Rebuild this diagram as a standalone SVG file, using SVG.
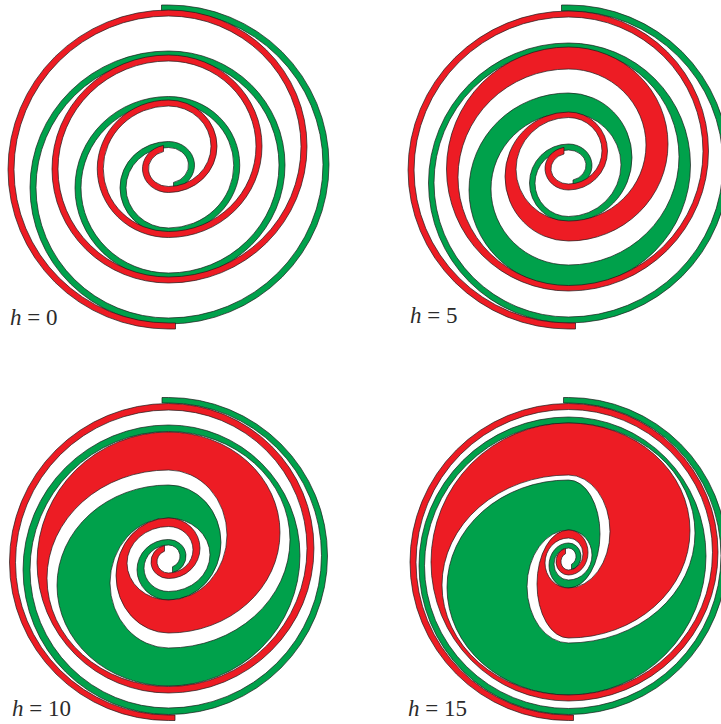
<svg xmlns="http://www.w3.org/2000/svg" xmlns:xlink="http://www.w3.org/1999/xlink" width="721" height="724" viewBox="0 0 721 724">
<style>
.sp{stroke:#1a1a1a;stroke-width:0.7;stroke-linejoin:round}
.gr{fill:#00a14b}
.rd{fill:#ed1c24}
.lab{font-family:"Liberation Serif","Times New Roman",serif;font-size:23px;fill:#2b2b2b}
</style>
<defs>
<path id="p1" d="M161.5 5 L168.5 5 A160.5 159.5 0 0 1 168.5 324 A138.5 136.5 0 0 1 168.5 51 A116.5 114 0 0 1 168.5 279 A93.5 91.25 0 0 1 168.5 96.5 A71.25 68.75 0 0 1 168.5 234 A48.5 46.25 0 0 1 168.5 141.5 A26 23.75 0 0 1 173.5 188.56 L173.5 182.44 A20 17.75 0 0 0 168.5 147.5 A42.5 40.25 0 0 0 168.5 228 A65.25 62.75 0 0 0 168.5 102.5 A87.5 85.25 0 0 0 168.5 273 A110.5 108 0 0 0 168.5 57 A132.5 130.5 0 0 0 168.5 318 A154.5 153.5 0 0 0 168.5 11 L161.5 11 Z"/>
<path id="p2" d="M161.5 5 L168.5 5 A160.5 159 0 0 1 168.5 323 A140 140 0 0 1 168.5 43 A122 122 0 0 1 168.5 287 A99.5 97 0 0 1 168.5 93 A63.5 64.5 0 0 1 168.5 222 A39 39 0 0 1 168.5 144 A23.5 21.5 0 0 1 173 186.6 L173 180 A17.5 15.25 0 0 0 168.5 150 A33.5 33.25 0 0 0 168.5 216.5 A52.5 51.75 0 0 0 168.5 113 A77.5 76 0 0 0 168.5 265 A110.5 108.25 0 0 0 168.5 48.5 A134.5 134.25 0 0 0 168.5 317 A154.5 153 0 0 0 168.5 11 L161.5 11 Z"/>
<path id="p3" d="M162 5.5 L168.5 5.5 A159 158.5 0 0 1 168.5 322.5 A145.5 144.75 0 0 1 168.5 33 A131.5 130.5 0 0 1 168.5 294 A111.5 100.5 0 0 1 168.5 93 A52.5 57.5 0 0 1 168.5 208 A31.5 30.25 0 0 1 168.5 147.5 A17.5 16.75 0 0 1 172.5 180.56 L172.5 174.8 A11.5 11.25 0 0 0 168.5 153 A24.5 23.25 0 0 0 168.5 199.5 A41.5 36.75 0 0 0 168.5 126 A58.5 65 0 0 0 168.5 256 A121.5 108.25 0 0 0 168.5 39.5 A138.5 138.25 0 0 0 168.5 316 A153 152.5 0 0 0 168.5 11 L162 11 Z"/>
<path id="p4" d="M163.5 5.5 L168.5 5.5 A158.5 158.5 0 0 1 168.5 322.5 A149.5 148.75 0 0 1 168.5 25 A137.5 139 0 0 1 168.5 303 A121.5 107.5 0 0 1 168.5 88 A31.5 54 0 0 1 168.5 196 A19.5 22.5 0 0 1 168.5 151 A12.5 13.5 0 0 1 171.5 177.6 L171.5 172.3 A7.5 8.5 0 0 0 168.5 156 A14.5 16 0 0 0 168.5 188 A23.5 25 0 0 0 168.5 138 A41.5 56.5 0 0 0 168.5 251 A126.5 110 0 0 0 168.5 31 A144 142.75 0 0 0 168.5 316.5 A152.5 152.75 0 0 0 168.5 11 L163.5 11 Z"/>
</defs>
<g id="panel-h0">
<use xlink:href="#p1" href="#p1" class="sp gr"/>
<use xlink:href="#p1" href="#p1" class="sp rd" transform="rotate(180 168.5 167)"/>
<text class="lab" x="10" y="325"><tspan font-style="italic">h</tspan> = 0</text>
</g>
<g id="panel-h5" transform="translate(400 0)">
<use xlink:href="#p2" href="#p2" class="sp gr"/>
<use xlink:href="#p2" href="#p2" class="sp rd" transform="rotate(180 168.5 167)"/>
<text class="lab" x="10" y="323"><tspan font-style="italic">h</tspan> = 5</text>
</g>
<g id="panel-h10" transform="translate(0 392)">
<use xlink:href="#p3" href="#p3" class="sp gr"/>
<use xlink:href="#p3" href="#p3" class="sp rd" transform="rotate(180 168.5 167)"/>
<text class="lab" x="12" y="324"><tspan font-style="italic">h</tspan> = 10</text>
</g>
<g id="panel-h15" transform="translate(400 392)">
<use xlink:href="#p4" href="#p4" class="sp gr"/>
<use xlink:href="#p4" href="#p4" class="sp rd" transform="rotate(180 168.5 167)"/>
<text class="lab" x="8" y="324"><tspan font-style="italic">h</tspan> = 15</text>
</g>
</svg>
